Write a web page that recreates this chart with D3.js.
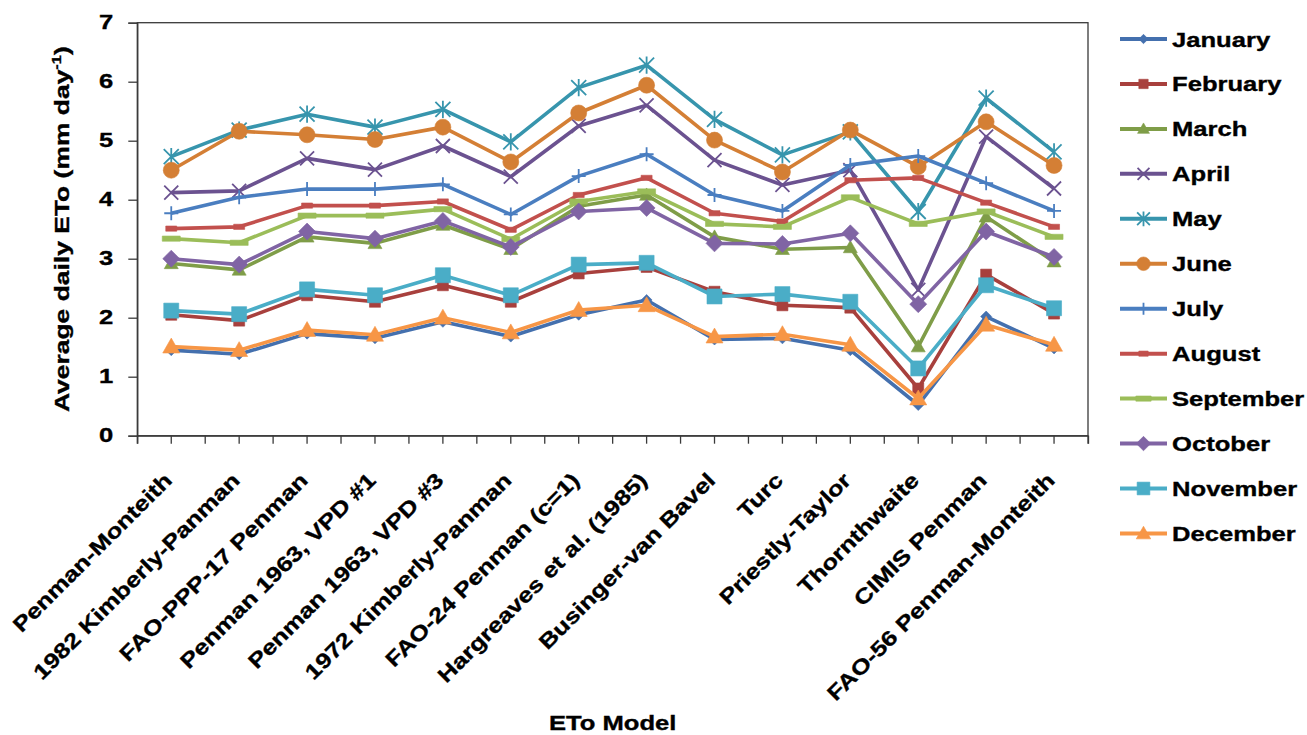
<!DOCTYPE html>
<html>
<head>
<meta charset="utf-8">
<script src="https://cdn.jsdelivr.net/npm/d3@7"></script>
<style>
  html, body { margin: 0; padding: 0; background: #fff; }
  svg text { font-family: "Liberation Sans", Arial, Helvetica, sans-serif; font-weight: bold; fill: #000; stroke: #000; stroke-width: 0.35px; }
</style>
</head>
<body>
<svg id="chart" width="1307" height="735"></svg>
<script>
// ETo models along the category axis
const models = [
  "Penman-Monteith", "1982 Kimberly-Panman", "FAO-PPP-17 Penman", "Penman 1963, VPD #1",
  "Penman 1963, VPD #3", "1972 Kimberly-Panman", "FAO-24 Penman (c=1)", "Hargreaves et al. (1985)",
  "Businger-van Bavel", "Turc", "Priestly-Taylor", "Thornthwaite", "CIMIS Penman", "FAO-56 Penman-Monteith"
];
const months = ["January", "February", "March", "April", "May", "June",
                "July", "August", "September", "October", "November", "December"];

// Average daily ETo (mm/day) per model, one array per month
const january   = [1.45, 1.38, 1.73, 1.65, 1.93, 1.68, 2.05, 2.30, 1.63, 1.65, 1.45, 0.52, 2.02, 1.48];
const february  = [2.05, 1.95, 2.38, 2.27, 2.55, 2.27, 2.75, 2.86, 2.44, 2.21, 2.17, 0.80, 2.73, 2.07];
const march     = [2.92, 2.81, 3.37, 3.26, 3.57, 3.16, 3.89, 4.08, 3.37, 3.16, 3.19, 1.51, 3.71, 2.95];
const april     = [4.12, 4.15, 4.70, 4.51, 4.91, 4.39, 5.25, 5.60, 4.67, 4.25, 4.50, 2.47, 5.07, 4.19];
const may       = [4.73, 5.18, 5.45, 5.23, 5.53, 4.98, 5.90, 6.28, 5.36, 4.76, 5.15, 3.80, 5.72, 4.81];
const june      = [4.50, 5.16, 5.10, 5.02, 5.23, 4.64, 5.47, 5.94, 5.01, 4.47, 5.18, 4.56, 5.32, 4.58];
const july      = [3.77, 4.04, 4.18, 4.18, 4.26, 3.75, 4.40, 4.77, 4.08, 3.81, 4.59, 4.74, 4.28, 3.81];
const august    = [3.51, 3.54, 3.90, 3.90, 3.97, 3.49, 4.08, 4.37, 3.77, 3.63, 4.33, 4.37, 3.95, 3.54];
const september = [3.34, 3.27, 3.73, 3.73, 3.84, 3.33, 3.97, 4.14, 3.59, 3.54, 4.04, 3.59, 3.80, 3.37];
const october   = [3.00, 2.90, 3.46, 3.34, 3.64, 3.20, 3.80, 3.86, 3.26, 3.25, 3.43, 2.23, 3.46, 3.03];
const november  = [2.12, 2.06, 2.48, 2.38, 2.72, 2.38, 2.90, 2.93, 2.36, 2.40, 2.27, 1.14, 2.55, 2.16];
const december  = [1.51, 1.45, 1.79, 1.71, 2.00, 1.75, 2.13, 2.21, 1.68, 1.72, 1.54, 0.63, 1.88, 1.54];

const yTicks = [0, 1, 2, 3, 4, 5, 6, 7];

const seriesValues = [january, february, march, april, may, june,
                      july, august, september, october, november, december];

const colors = ["#4470AE", "#A8403D", "#7F9D48", "#6B5290", "#3795AD", "#D47F35",
                "#4A7EC0", "#C2504D", "#9BBD59", "#8064A4", "#4AADC7", "#F79646"];

// marker shape and size (px) per month, in the plot
const markerDefs = [
  { type: "diamond",  size: 11 },
  { type: "square",   size: 11 },
  { type: "triangle", size: 14 },
  { type: "x",        size: 14 },
  { type: "asterisk", size: 15 },
  { type: "circle",   size: 16 },
  { type: "plus",     size: 14 },
  { type: "dash",     size: 11 },
  { type: "dash",     size: 18 },
  { type: "diamond",  size: 17 },
  { type: "square",   size: 15 },
  { type: "triangle", size: 17 }
];

const FS = 21;      // font size
const SX = 1.22;    // horizontal widening of the bold face

const svg = d3.select("#chart");
const plot = { left: 137.3, right: 1088, top: 22.7, bottom: 435.7 };

const x = d3.scaleBand().domain(models).range([plot.left, plot.right]).padding(0);
const cx = d => x(d) + x.bandwidth() / 2;
const y = d3.scaleLinear().domain([0, 7]).range([plot.bottom, plot.top]);

function markerPath(type, s) {
  const r = s / 2;
  switch (type) {
    case "diamond":  return `M0,${-r}L${r},0L0,${r}L${-r},0Z`;
    case "square":   return `M${-r},${-r}H${r}V${r}H${-r}Z`;
    case "triangle": return `M0,${-r * 1.0}L${r},${r * 0.75}L${-r},${r * 0.75}Z`;
    case "circle":   return d3.symbol(d3.symbolCircle, Math.PI * r * r)();
    case "x":        return `M${-r},${-r}L${r},${r}M${-r},${r}L${r},${-r}`;
    case "asterisk": return `M${-r},${-r}L${r},${r}M${-r},${r}L${r},${-r}M0,${-r * 1.15}V${r * 1.15}`;
    case "plus":     return `M${-r},0H${r}M0,${-r}V${r}`;
    case "dash":     return `M${-r},-2.6H${r}V2.6H${-r}Z`;
  }
}
const stroked = t => t === "x" || t === "asterisk" || t === "plus";

function drawMarker(g, def, color, scale) {
  const p = g.append("path").attr("d", markerPath(def.type, def.size * scale));
  if (stroked(def.type)) {
    p.attr("fill", "none").attr("stroke", color).attr("stroke-width", 1.8);
  } else {
    p.attr("fill", color).attr("stroke", color).attr("stroke-width", 0.6);
  }
  return p;
}

// plot frame
svg.append("rect")
  .attr("x", plot.left).attr("y", plot.top)
  .attr("width", plot.right - plot.left).attr("height", plot.bottom - plot.top)
  .attr("fill", "none").attr("stroke", "#3a3a3a").attr("stroke-width", 1.3);

// y axis
const yAxis = svg.append("g")
  .attr("transform", `translate(${plot.left},0)`)
  .call(d3.axisLeft(y).tickValues(yTicks).tickSize(9).tickFormat(d3.format("d")));
yAxis.select(".domain").attr("stroke", "#3a3a3a").attr("stroke-width", 1.3);
yAxis.selectAll(".tick line").attr("stroke", "#3a3a3a").attr("stroke-width", 1.3);
yAxis.selectAll(".tick text")
  .attr("x", null).attr("dy", null)
  .attr("text-anchor", "end")
  .attr("transform", `translate(-24,6) scale(${SX},1)`)
  .style("font-size", FS + "px")
  .style("font-family", null);

// x axis: ticks at category centres and at category boundaries
const xAxis = svg.append("g")
  .attr("transform", `translate(0,${plot.bottom})`)
  .call(d3.axisBottom(x).tickSize(8).tickFormat(""));
xAxis.select(".domain").attr("stroke", "#3a3a3a").attr("stroke-width", 1.3);
xAxis.selectAll(".tick line").attr("stroke", "#3a3a3a").attr("stroke-width", 1.3);
xAxis.selectAll("line.boundary")
  .data(models.map(d => x(d)).concat([plot.right]))
  .join("line")
  .attr("class", "boundary")
  .attr("x1", d => d).attr("x2", d => d)
  .attr("y1", 0).attr("y2", 8)
  .attr("stroke", "#3a3a3a").attr("stroke-width", 1.3);

// rotated category labels
svg.append("g").selectAll("text")
  .data(models)
  .join("text")
  .attr("text-anchor", "end")
  .attr("transform", d => `translate(${cx(d) + 2},${plot.bottom + 46}) rotate(-45) scale(${SX},1)`)
  .style("font-size", FS + "px")
  .text(d => d);

// axis titles
const yTitle = svg.append("text")
  .attr("text-anchor", "middle")
  .attr("transform", `translate(69,${(plot.top + plot.bottom) / 2}) rotate(-90) scale(1.26,1)`)
  .style("font-size", FS + "px");
yTitle.append("tspan").text("Average daily ETo (mm day");
yTitle.append("tspan").attr("dy", -8).style("font-size", "13px").text("-1");
yTitle.append("tspan").attr("dy", 8).text(")");

svg.append("text")
  .attr("text-anchor", "middle")
  .attr("transform", `translate(${(plot.left + plot.right) / 2},730) scale(${SX},1)`)
  .style("font-size", FS + "px")
  .text("ETo Model");

// series: line first, then markers, month by month
const line = d3.line().x((v, i) => cx(models[i])).y(v => y(v));
const seriesG = svg.append("g");
seriesValues.forEach((vals, k) => {
  const g = seriesG.append("g");
  g.append("path")
    .attr("d", line(vals))
    .attr("fill", "none")
    .attr("stroke", colors[k])
    .attr("stroke-width", 3.6)
    .attr("stroke-linejoin", "round");
  vals.forEach((v, i) => {
    const mg = g.append("g").attr("transform", `translate(${cx(models[i])},${y(v)})`);
    drawMarker(mg, markerDefs[k], colors[k], 1);
  });
});

// legend
const legend = svg.append("g");
months.forEach((m, k) => {
  const ly = 39 + k * 44.95;
  const g = legend.append("g").attr("transform", `translate(0,${ly})`);
  g.append("line")
    .attr("x1", 1120).attr("x2", 1167).attr("y1", 0).attr("y2", 0)
    .attr("stroke", colors[k]).attr("stroke-width", 4);
  const mg = g.append("g").attr("transform", "translate(1143.5,0)");
  drawMarker(mg, markerDefs[k], colors[k], 0.85);
  g.append("text")
    .attr("transform", `translate(1172,7.5) scale(${SX},1)`)
    .style("font-size", FS + "px")
    .text(m);
});
</script>
</body>
</html>
